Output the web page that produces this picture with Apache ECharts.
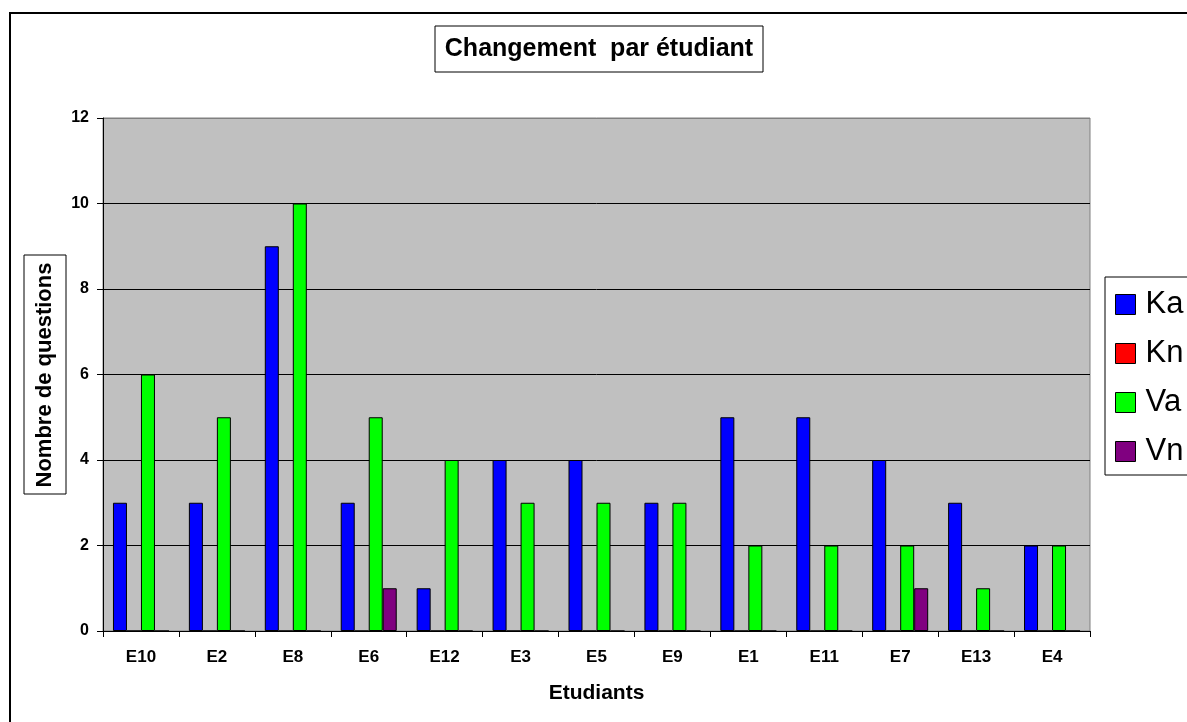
<!DOCTYPE html>
<html>
<head>
<meta charset="utf-8">
<script src="https://cdn.jsdelivr.net/npm/echarts@6/dist/echarts.min.js"></script>
<style>
html,body{margin:0;padding:0;background:#fff;}
#chart{width:1187px;height:722px;}
</style>
</head>
<body>
<div id="chart"></div>
<script>
const categories = ['E10','E2','E8','E6','E12','E3','E5','E9','E1','E11','E7','E13','E4'];
const seriesNames = ['Ka','Kn','Va','Vn'];
const kaValues = [3,3,9,3,1,4,4,3,5,5,4,3,2];
const knValues = [0,0,0,0,0,0,0,0,0,0,0,0,0];
const vaValues = [6,5,10,5,4,3,3,3,2,2,2,1,2];
const vnValues = [0,0,0,1,0,0,0,0,0,0,1,0,0];
const yTicks = [0,2,4,6,8,10,12];
const titleText = 'Changement  par étudiant';
const yName = 'Nombre de questions';
const xName = 'Etudiants';

const colors = ['#0000ff','#ff0000','#00ff00','#800080'];
const FONT = 'Arial, "Liberation Sans", sans-serif';
const chart = echarts.init(document.getElementById('chart'));
const allValues = [kaValues, knValues, vaValues, vnValues];

chart.setOption({
  animation: false,
  grid: {
    left: 103, top: 118, right: 97, bottom: 91,
    show: true, backgroundColor: '#c0c0c0', borderColor: '#808080', borderWidth: 1
  },
  legend: {
    orient: 'vertical',
    left: 1105, top: 277,
    data: seriesNames,
    icon: 'rect',
    itemWidth: 20, itemHeight: 20,
    itemGap: 18,
    padding: [12, 40, 8, 10],
    borderColor: '#000', borderWidth: 1,
    backgroundColor: '#fff',
    textStyle: { fontFamily: FONT, fontSize: 31, color: '#000', lineHeight: 30, padding: [0,0,0,5] },
    itemStyle: { borderColor: '#000', borderWidth: 1 }
  },
  xAxis: {
    type: 'category',
    data: categories,
    axisLine: { lineStyle: { color: '#000', width: 1 } },
    axisTick: { show: true, alignWithLabel: false, length: 6, lineStyle: { color: '#000' } },
    axisLabel: { fontFamily: FONT, fontSize: 17, fontWeight: 'bold', color: '#000', margin: 18 },
    name: xName,
    nameLocation: 'middle',
    nameGap: 52,
    nameTextStyle: { fontFamily: FONT, fontSize: 21, fontWeight: 'bold', color: '#000' }
  },
  yAxis: {
    type: 'value',
    min: 0, max: yTicks[yTicks.length-1], interval: 2,
    axisLine: { show: true, lineStyle: { color: '#000', width: 1 } },
    axisTick: { show: true, length: 6, lineStyle: { color: '#000' } },
    axisLabel: { fontFamily: FONT, fontSize: 16, fontWeight: 'bold', color: '#000', margin: 14 },
    splitLine: { show: true, lineStyle: { color: '#000', width: 1 } }
  },
  series: seriesNames.map((n, i) => ({
    name: n,
    type: 'bar',
    data: allValues[i],
    barWidth: 14,
    barGap: '0%',
    itemStyle: { color: colors[i], borderColor: '#000', borderWidth: 1 }
  })),
  graphic: [
    { type: 'rect', shape: { x: 10, y: 13, width: 1300, height: 900 },
      style: { fill: 'none', stroke: '#000', lineWidth: 2 }, silent: true, z: 100 },
    { type: 'line', shape: { x1: 104, y1: 118.5, x2: 1090, y2: 118.5 },
      style: { stroke: '#808080', lineWidth: 1 }, silent: true, z: 100 },
    { type: 'rect', shape: { x: 435, y: 26, width: 328, height: 46 },
      style: { fill: '#fff', stroke: '#000', lineWidth: 1 }, z: 100 },
    { type: 'text', x: 599, y: 49, z: 101,
      style: { text: titleText, font: 'bold 25px ' + FONT, fill: '#000', textAlign: 'center', textVerticalAlign: 'middle' } },
    { type: 'rect', shape: { x: 24, y: 255, width: 42, height: 239 },
      style: { fill: '#fff', stroke: '#000', lineWidth: 1 }, z: 100 },
    { type: 'text', x: 45, y: 375, rotation: Math.PI/2, z: 101,
      style: { text: yName, font: 'bold 22px ' + FONT, fill: '#000', textAlign: 'center', textVerticalAlign: 'middle' } }
  ]
});
</script>
</body>
</html>
